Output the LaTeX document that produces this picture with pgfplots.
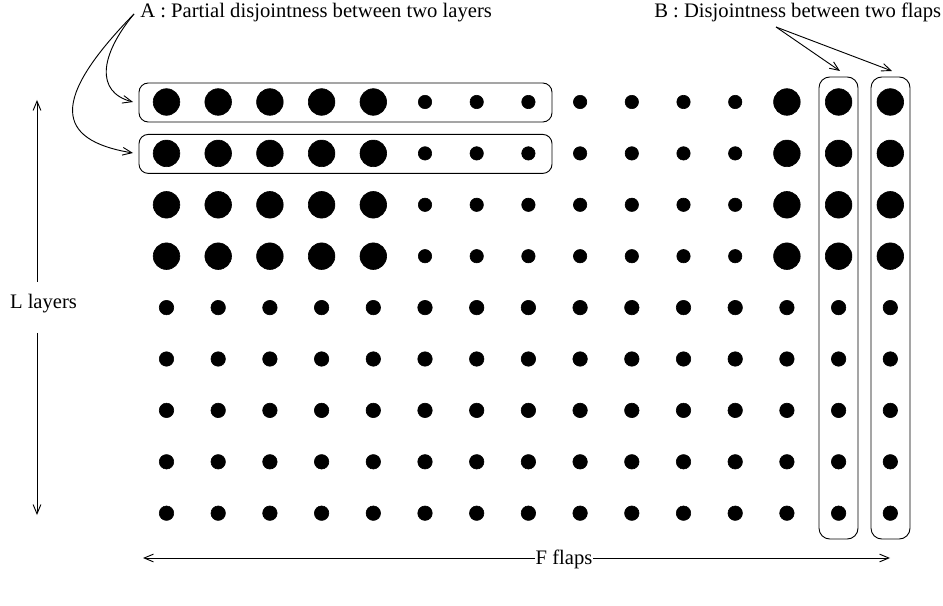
\documentclass[border=0pt]{standalone}
\usepackage{fontspec}
\setmainfont{Liberation Serif}
\usepackage{pgfplots}
\pgfplotsset{compat=1.18}
\usetikzlibrary{arrows.meta}
\begin{document}
\fontsize{13.4}{16}\selectfont
\begin{tikzpicture}[>={Straight Barb[length=6pt,width=5pt]}]
\begin{axis}[
  scale only axis, width=612.95pt, height=393.9pt,
  xmin=0, xmax=943, ymin=0, ymax=606, y dir=reverse,
  hide axis, clip=false,
]
% large dots
\addplot[only marks, mark=*, mark size=8.65pt, mark options={draw=none, fill=black}] coordinates {
(166.5,102) (218.2,102) (269.9,102) (321.6,102) (373.3,102) (786.9,102) (838.6,102) (890.3,102)
(166.5,153.4) (218.2,153.4) (269.9,153.4) (321.6,153.4) (373.3,153.4) (786.9,153.4) (838.6,153.4) (890.3,153.4)
(166.5,204.8) (218.2,204.8) (269.9,204.8) (321.6,204.8) (373.3,204.8) (786.9,204.8) (838.6,204.8) (890.3,204.8)
(166.5,256.2) (218.2,256.2) (269.9,256.2) (321.6,256.2) (373.3,256.2) (786.9,256.2) (838.6,256.2) (890.3,256.2)
};
% small dots in the upper rows
\addplot[only marks, mark=*, mark size=4.35pt, mark options={draw=none, fill=black}] coordinates {
(425,102) (476.7,102) (528.4,102) (580.1,102) (631.8,102) (683.5,102) (735.2,102)
(425,153.4) (476.7,153.4) (528.4,153.4) (580.1,153.4) (631.8,153.4) (683.5,153.4) (735.2,153.4)
(425,204.8) (476.7,204.8) (528.4,204.8) (580.1,204.8) (631.8,204.8) (683.5,204.8) (735.2,204.8)
(425,256.2) (476.7,256.2) (528.4,256.2) (580.1,256.2) (631.8,256.2) (683.5,256.2) (735.2,256.2)
};
% small dots in the lower rows
\addplot[only marks, mark=*, mark size=4.7pt, mark options={draw=none, fill=black}] coordinates {
(166.5,307.6) (218.2,307.6) (269.9,307.6) (321.6,307.6) (373.3,307.6) (425,307.6) (476.7,307.6) (528.4,307.6) (580.1,307.6) (631.8,307.6) (683.5,307.6) (735.2,307.6) (786.9,307.6) (838.6,307.6) (890.3,307.6)
(166.5,359) (218.2,359) (269.9,359) (321.6,359) (373.3,359) (425,359) (476.7,359) (528.4,359) (580.1,359) (631.8,359) (683.5,359) (735.2,359) (786.9,359) (838.6,359) (890.3,359)
(166.5,410.4) (218.2,410.4) (269.9,410.4) (321.6,410.4) (373.3,410.4) (425,410.4) (476.7,410.4) (528.4,410.4) (580.1,410.4) (631.8,410.4) (683.5,410.4) (735.2,410.4) (786.9,410.4) (838.6,410.4) (890.3,410.4)
(166.5,461.8) (218.2,461.8) (269.9,461.8) (321.6,461.8) (373.3,461.8) (425,461.8) (476.7,461.8) (528.4,461.8) (580.1,461.8) (631.8,461.8) (683.5,461.8) (735.2,461.8) (786.9,461.8) (838.6,461.8) (890.3,461.8)
(166.5,513.2) (218.2,513.2) (269.9,513.2) (321.6,513.2) (373.3,513.2) (425,513.2) (476.7,513.2) (528.4,513.2) (580.1,513.2) (631.8,513.2) (683.5,513.2) (735.2,513.2) (786.9,513.2) (838.6,513.2) (890.3,513.2)
};
% boxes
\draw[line width=0.6pt, rounded corners=6pt] (axis cs:139,83) rectangle (axis cs:552,122);
\draw[line width=0.6pt, rounded corners=6pt] (axis cs:139,134.4) rectangle (axis cs:552,173.4);
\draw[line width=0.6pt, rounded corners=7pt] (axis cs:819,77) rectangle (axis cs:858,539);
\draw[line width=0.6pt, rounded corners=7pt] (axis cs:871,77) rectangle (axis cs:910,539);
% texts
\node[anchor=base west, inner sep=0pt] at (axis cs:140,18) {A : Partial disjointness between two layers};
\node[anchor=base west, inner sep=0pt] at (axis cs:654,18) {B : Disjointness between two flaps};
\node[anchor=base, inner sep=0pt] at (axis cs:43.5,309) {L layers};
\node[anchor=base, inner sep=0pt] at (axis cs:564,564) {F flaps};
% arrows
\draw[line width=0.6pt, ->] (axis cs:134,14) .. controls (axis cs:100,55) and (axis cs:95,92) .. (axis cs:133,102);
\draw[line width=0.6pt, ->] (axis cs:134,14) .. controls (axis cs:50,100) and (axis cs:55,140) .. (axis cs:133,153);
\draw[line width=0.6pt, ->] (axis cs:776,27) -- (axis cs:840,71);
\draw[line width=0.6pt, ->] (axis cs:776,27) -- (axis cs:892,71);
\draw[line width=0.6pt, ->] (axis cs:37,282) -- (axis cs:37,100);
\draw[line width=0.6pt, ->] (axis cs:37,333) -- (axis cs:37,515);
\draw[line width=0.6pt, ->] (axis cs:535,558) -- (axis cs:143,558);
\draw[line width=0.6pt, ->] (axis cs:593,558) -- (axis cs:890,558);
\path (axis cs:0,0) rectangle (axis cs:943,606);
\end{axis}
\end{tikzpicture}
\end{document}
